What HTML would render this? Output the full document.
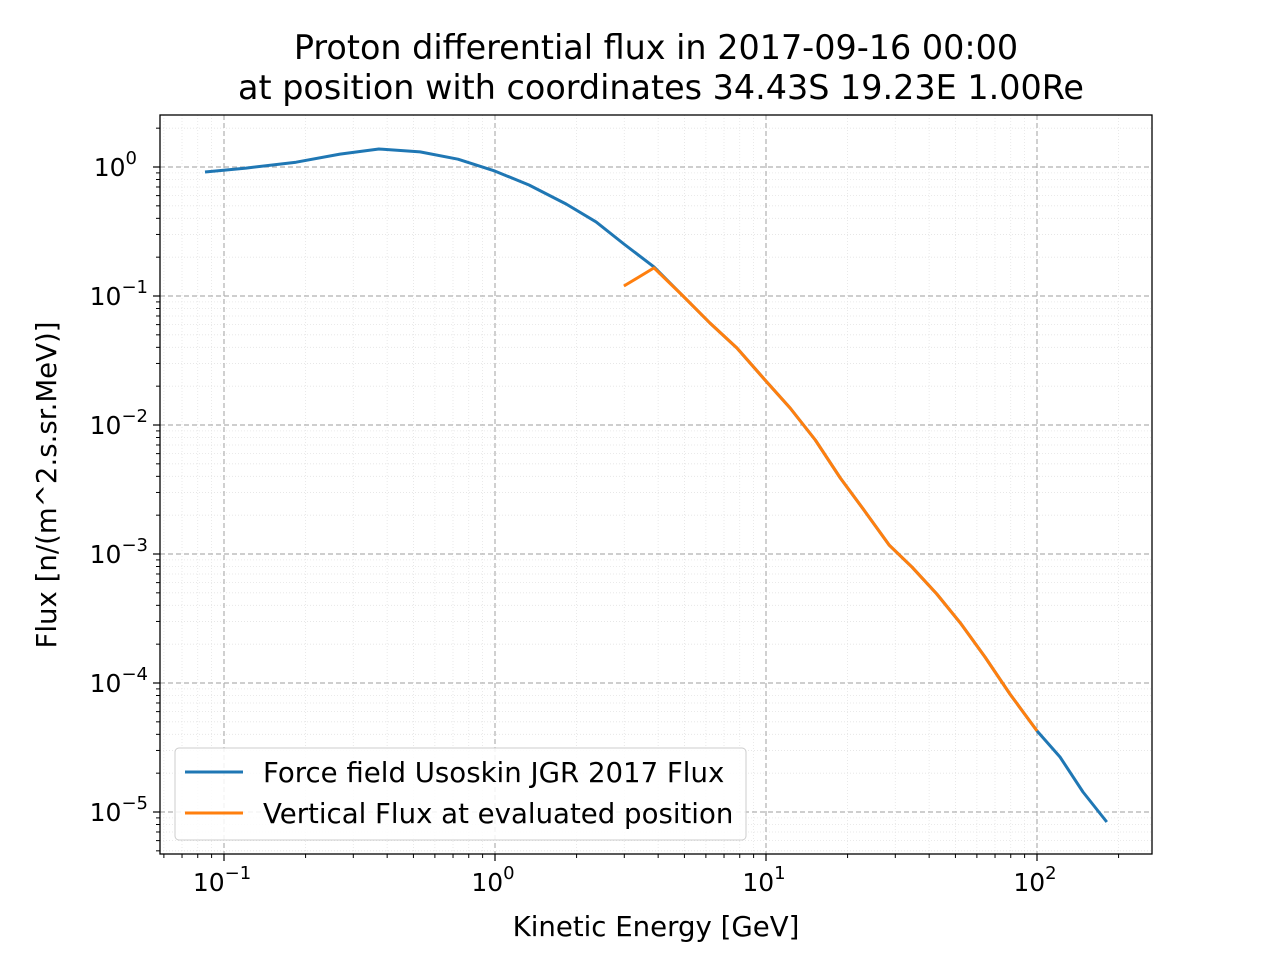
<!DOCTYPE html>
<html><head><meta charset="utf-8"><style>
body{margin:0;background:#fff;font-family:"Liberation Sans","DejaVu Sans",sans-serif}
</style></head><body>
<svg id="chart" width="1280" height="960" xmlns="http://www.w3.org/2000/svg" font-family="DejaVu Sans, Liberation Sans, sans-serif">
<rect width="1280" height="960" fill="#fff"/>
<text x="656" y="59" font-size="33.4" text-anchor="middle">Proton differential flux in 2017-09-16 00:00</text>
<text x="661" y="99" font-size="33.4" text-anchor="middle">at position with coordinates 34.43S 19.23E 1.00Re</text>
<g id="grid"></g>
<g id="series"></g>
<rect x="160" y="115" width="992" height="739" fill="none" stroke="#000" stroke-width="1.3"/>
<g id="ticks"></g>
<text x="656" y="936" font-size="27.6" text-anchor="middle">Kinetic Energy [GeV]</text>
<text transform="translate(56,485) rotate(-90)" font-size="27.6" text-anchor="middle">Flux [n/(m^2.s.sr.MeV)]</text>
<g>
<rect x="175" y="748" width="571" height="92" rx="4" fill="#fff" fill-opacity="0.85" stroke="#ccc"/>
<line x1="185" y1="772" x2="243" y2="772" stroke="#1f77b4" stroke-width="3"/>
<text x="263" y="782" font-size="27.6">Force field Usoskin JGR 2017 Flux</text>
<line x1="185" y1="813" x2="243" y2="813" stroke="#ff7f0e" stroke-width="3"/>
<text x="263" y="823" font-size="27.6">Vertical Flux at evaluated position</text>
</g>
</svg>
<script>
const blueE=[0.0851,0.1206,0.1845,0.268,0.373,0.529,0.730,1,1.335,1.83,2.36,2.99,3.86,4.94,6.21,7.81,10,12.27,15.2,18.8,23.0,28.5,34.6,42.7,52.5,64.3,79.5,100,121.6,147.8,181];
const blueF=[0.915,0.98,1.09,1.26,1.38,1.31,1.15,0.93,0.725,0.517,0.375,0.253,0.168,0.1,0.0618,0.0395,0.0219,0.01355,0.00765,0.00388,0.00219,0.00117,0.00079,0.00049,0.000286,0.000159,8.2e-5,4.25e-5,2.67e-5,1.43e-5,8.36e-6];
const orangeE=[2.99,3.86,4.94,6.21,7.81,10,12.27,15.2,18.8,23.0,28.5,34.6,42.7,52.5,64.3,79.5,100];
const orangeF=[0.1196,0.165,0.1,0.0618,0.0395,0.0219,0.01355,0.00765,0.00388,0.00219,0.00117,0.00079,0.00049,0.000286,0.000159,8.2e-5,4.25e-5];
const xDecades=[-1,0,1,2];
const yDecades=[0,-1,-2,-3,-4,-5];
const NS="http://www.w3.org/2000/svg";
function sx(v){return 495+271*Math.log10(v);}
function sy(v){return 167-129*Math.log10(v);}
function mk(t,a,p){const e=document.createElementNS(NS,t);for(const k in a)e.setAttribute(k,a[k]);p.appendChild(e);return e;}
const grid=document.getElementById('grid'),ticks=document.getElementById('ticks'),series=document.getElementById('series');
for(let d=-2;d<=2;d++)for(let m=2;m<=9;m++){const x=sx(m*Math.pow(10,d));if(x<160||x>1152)continue;
 const l=mk('line',{x1:x,x2:x,y1:115,y2:854,stroke:'#e4e4e4','stroke-dasharray':'1,2','stroke-width':0.8},grid);
 
 const t=mk('line',{x1:x,x2:x,y1:854,y2:858,stroke:'#000','stroke-width':1},ticks);
 }
for(let d=-6;d<=0;d++)for(let m=2;m<=9;m++){const y=sy(m*Math.pow(10,d));if(y<115||y>854)continue;
 const l=mk('line',{x1:160,x2:1152,y1:y,y2:y,stroke:'#e4e4e4','stroke-dasharray':'1,2','stroke-width':0.8},grid);
 
 const t=mk('line',{x1:156,x2:160,y1:y,y2:y,stroke:'#000','stroke-width':1},ticks);
 }
xDecades.forEach(d=>{const x=sx(Math.pow(10,d));
 const l=mk('line',{x1:x,x2:x,y1:115,y2:854,stroke:'#b0b0b0','stroke-dasharray':'5,3','stroke-width':1.2},grid);
 
 const t=mk('line',{x1:x,x2:x,y1:854,y2:861,stroke:'#000','stroke-width':1.2},ticks);
 
 const tx=mk('text',{x:x-2,y:891,'font-size':25,'text-anchor':'middle'},ticks);
 
 tx.textContent='10';const s=mk('tspan',{dy:-12,'font-size':18},tx);s.textContent=String(d).replace('-','\u2212');});
yDecades.forEach(d=>{const y=sy(Math.pow(10,d));
 const l=mk('line',{x1:160,x2:1152,y1:y,y2:y,stroke:'#b0b0b0','stroke-dasharray':'5,3','stroke-width':1.2},grid);
 
 const t=mk('line',{x1:153,x2:160,y1:y,y2:y,stroke:'#000','stroke-width':1.2},ticks);
 
 const tx=mk('text',{x:d===0?137:148,y:y+9,'font-size':25,'text-anchor':'end'},ticks);
 
 tx.textContent='10';const s=mk('tspan',{dy:-12,'font-size':18},tx);s.textContent=String(d).replace('-','\u2212');});
function line(E,F,color,name){const p=E.map((e,i)=>sx(e).toFixed(1)+','+sy(F[i]).toFixed(1)).join(' ');
 const el=mk('polyline',{points:p,fill:'none',stroke:color,'stroke-width':3,'stroke-linejoin':'round'},series);
 }
line(blueE,blueF,'#1f77b4','force-field-flux-line');
line(orangeE,orangeF,'#ff7f0e','vertical-flux-line');
</script>
</body></html>
